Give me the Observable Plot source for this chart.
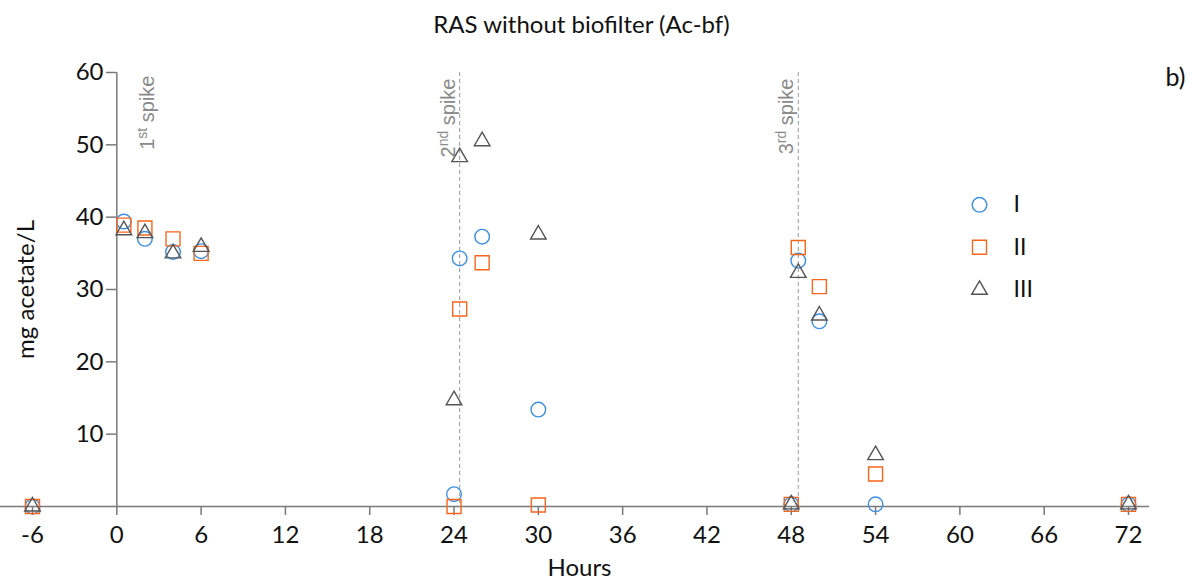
<!DOCTYPE html>
<html><head><meta charset="utf-8">
<script src="https://cdn.jsdelivr.net/npm/d3@7"></script>
<script src="https://cdn.jsdelivr.net/npm/@observablehq/plot@0.6"></script>
<style>body{margin:0;background:#fff;} #chart svg{display:block;}</style>
</head><body><div id="chart"></div>
<script>
const hours = [-6, 0.5, 2, 4, 6, 24, 24.4, 26, 30, 48, 48.5, 50, 54, 72];
const seriesI   = [0, 39.4, 37.0, 35.2, 35.3, 1.7, 34.3, 37.3, 13.4, 0.3, 34.0, 25.6, 0.3, 0.3];
const seriesII  = [0, 38.9, 38.5, 37.0, 35.0, 0.0, 27.3, 33.7, 0.2, 0.3, 35.8, 30.4, 4.5, 0.3];
const seriesIII = [0, 38.2, 37.8, 35.0, 35.9, 14.7, 48.3, 50.5, 37.6, 0.3, 32.3, 26.4, 7.1, 0.3];
const seriesNames = ["I", "II", "III"];
const xTicks = [-6, 0, 6, 12, 18, 24, 30, 36, 42, 48, 54, 60, 66, 72];
const yTicks = [10, 20, 30, 40, 50, 60];
const spikeHours = [0, 24.4, 48.5];
const spikeLabels = ["1st spike", "2nd spike", "3rd spike"];
const titleText = "RAS without biofilter (Ac-bf)";
const xLabel = "Hours";
const yLabel = "mg acetate/L";
const panelLabel = "b)";

const colors = {I: "#3b90e3", II: "#f7661a", III: "#555555"};
const symbols = {I: "circle", II: "square", III: "triangle"};
const radii = {I: 7.3, II: 7.9, III: 5.8};
const valuesBySeries = {I: seriesI, II: seriesII, III: seriesIII};

const FONT = "Lato, 'Open Sans', sans-serif";
const SPIKE_FONT = "'Liberation Sans', Arial, sans-serif";

const rows = seriesNames.flatMap(s => hours.map((h, i) => ({series: s, hour: h, value: valuesBySeries[s][i]})));
const spikes = spikeHours.map((h, i) => ({hour: h, label: spikeLabels[i]}));

const dotMarks = seriesNames.map(s => Plot.dot(rows.filter(d => d.series === s), {
  x: "hour", y: "value", symbol: () => symbols[s], stroke: colors[s], r: radii[s], strokeWidth: 1.4, fill: "none"
}));

const legendMarks = seriesNames.flatMap((s, i) => [
  Plot.dot([s], {frameAnchor: "top-left", dx: 947, dy: 132.3 + i * 42.5, symbol: () => symbols[s], stroke: colors[s], r: radii[s], strokeWidth: 1.4, fill: "none"}),
  Plot.text([s], {frameAnchor: "top-left", dx: 981, dy: 132.3 + i * 42.5, text: d => d, textAnchor: "start", lineAnchor: "middle", fontSize: 23, fontFamily: FONT, fill: "#111"})
]);

const chart = Plot.plot({
  width: 1200, height: 584,
  marginLeft: 32, marginRight: 72, marginTop: 72, marginBottom: 78,
  x: {domain: [-6, 72]},
  y: {domain: [0, 60]},
  symbol: {type: "identity"},
  style: {fontFamily: FONT, background: "#fff", color: "#111"},
  marks: [
    Plot.ruleX(spikes.slice(1), {x: "hour", stroke: "#9a9a9a", strokeDasharray: "4,3", strokeWidth: 1}),
    Plot.ruleY([0], {x1: -8.3, x2: 73.5, stroke: "#7a7a7a", strokeWidth: 1.5}),
    Plot.ruleX([0], {y1: 0, y2: 60, stroke: "#7a7a7a", strokeWidth: 1.5}),
    Plot.axisX({ticks: xTicks, tickSize: 9, tickPadding: 10, fontSize: 24, label: null, stroke: "#7a7a7a", fill: "#111", strokeWidth: 1.5, tickFormat: d => String(d)}),
    Plot.axisY({ticks: yTicks, tickSize: 10, tickPadding: 3, fontSize: 24, label: null, stroke: "#7a7a7a", fill: "#111", strokeWidth: 1.5, anchor: "left", dx: 84}),
    ...dotMarks,
    Plot.text(spikes.slice(0, 1), {x: "hour", frameAnchor: "top", text: "label", rotate: -90, textAnchor: "end", lineAnchor: "bottom", dx: 37, dy: 3, fontSize: 20, fontFamily: SPIKE_FONT, fill: "#8a8a8a"}),
    Plot.text(spikes.slice(1), {x: "hour", frameAnchor: "top", text: "label", rotate: -90, textAnchor: "end", lineAnchor: "bottom", dx: -5, dy: 6, fontSize: 20, fontFamily: SPIKE_FONT, fill: "#8a8a8a"}),
    ...legendMarks,
    Plot.text([titleText], {frameAnchor: "top", dx: 1, dy: -40, text: d => d, textAnchor: "middle", lineAnchor: "bottom", fontSize: 24, fontFamily: FONT, fill: "#111"}),
    Plot.text([xLabel], {frameAnchor: "bottom", dx: -1, dy: 69, text: d => d, textAnchor: "middle", lineAnchor: "bottom", fontSize: 24, fontFamily: FONT, fill: "#111"}),
    Plot.text([yLabel], {frameAnchor: "left", dx: 1, dy: 0, text: d => d, rotate: -90, textAnchor: "middle", lineAnchor: "bottom", fontSize: 24, fontFamily: FONT, fill: "#111"}),
    Plot.text([panelLabel], {frameAnchor: "top-right", dx: 47, dy: 5, text: d => d, textAnchor: "middle", lineAnchor: "middle", fontSize: 25, fontFamily: FONT, fill: "#111"})
  ]
});

document.getElementById("chart").appendChild(chart);

// superscript ordinal suffixes in the spike labels
d3.select(chart).selectAll("text").each(function() {
  const t = this.textContent;
  const m = /^(\d)(st|nd|rd) (spike)$/.exec(t);
  if (!m) return;
  const sel = d3.select(this);
  sel.text(null);
  sel.append("tspan").text(m[1]);
  sel.append("tspan").attr("font-size", "14px").attr("dy", "-7").text(m[2]);
  sel.append("tspan").attr("dy", "7").text(" " + m[3]);
});
</script>
</body></html>
